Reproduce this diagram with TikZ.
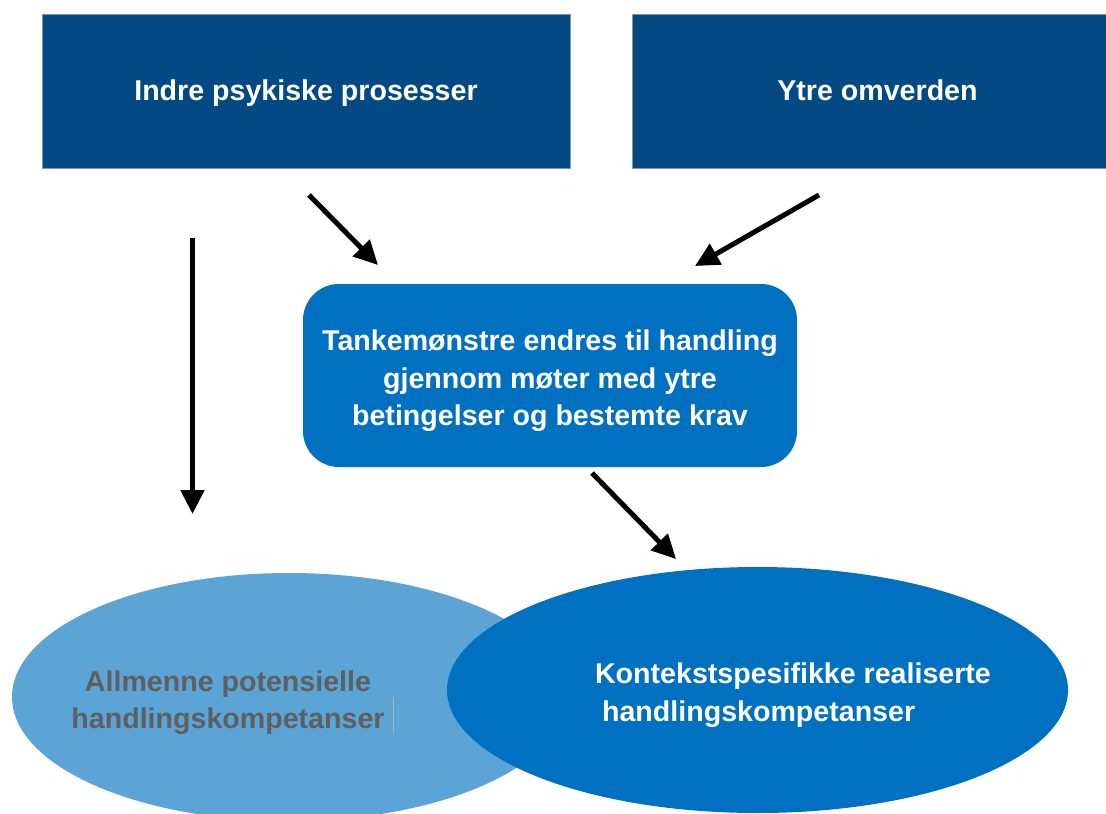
\documentclass[tikz,border=0pt]{standalone}
\usepackage{fontspec}
\setmainfont{Liberation Sans}
\usetikzlibrary{arrows.meta,shapes.geometric}

\definecolor{navybox}{RGB}{3,73,132}
\definecolor{navyedge}{RGB}{120,150,185}
\definecolor{midblue}{RGB}{0,112,192}
\definecolor{lightblue}{RGB}{92,164,213}
\definecolor{greytext}{RGB}{95,95,95}
\definecolor{caretcol}{RGB}{190,178,165}

\tikzset{
  lbl/.style={font=\bfseries\fontsize{28.6}{37.5}\selectfont, inner sep=0pt},
  topbox/.style={rectangle, fill=navybox, draw=navyedge, line width=0.8pt,
    text=white, lbl, text height=20.5pt, text depth=2pt, minimum height=154pt},
  thinkbox/.style={rectangle, rounded corners=36pt, fill=midblue,
    minimum width=494pt, minimum height=183pt},
  oval/.style={ellipse, inner sep=0pt},
  flow/.style={line width=5pt, -{Triangle[length=24pt,width=23pt]}}
}

\begin{document}
\begin{tikzpicture}[x=1pt,y=-1pt]
  \useasboundingbox (0,0) rectangle (1106,814);
  \fill[white] (0,0) rectangle (1106,814);
  \clip (0,0) rectangle (1106,814);

  % two source boxes
  \node[topbox, minimum width=528pt] (inner) at (306,91) {Indre psykiske prosesser};
  \node[topbox, minimum width=491pt] (outer) at (877.5,91) {Ytre omverden};

  % central transformation box
  \node[thinkbox] (think) at (550,375.5) {};
  \node[lbl, text=white, align=center] (thinktxt) at (550,381)
    {Tankemønstre endres til handling\\gjennom møter med ytre\\betingelser og bestemte krav};

  % the two competence ovals (dark one drawn on top)
  \node[oval, fill=lightblue, minimum width=554pt, minimum height=248pt] (general) at (289,697) {};
  \node[oval, fill=midblue, minimum width=621pt, minimum height=246pt] (specific) at (757.5,690) {};

  \node[lbl, text=greytext, align=center] (gentxt) at (228,702.5)
    {Allmenne potensielle\\handlingskompetanser};
  \coordinate (caretTop) at (393,697);
  \coordinate (caretBot) at (393,733);
  \draw[caretcol, line width=1pt] (caretTop) -- (caretBot);

  \node[lbl, text=white, align=left] (spectxt) at (793,695)
    {Kontekstspesifikke realiserte\\\hspace*{7pt}handlingskompetanser};

  % arrows
  \coordinate (a1s) at (309,195);
  \coordinate (a1e) at (378,265);
  \coordinate (a2s) at (819,195);
  \coordinate (a2e) at (695,266);
  \coordinate (a3s) at (192.5,238);
  \coordinate (a3e) at (192.5,514);
  \coordinate (a4s) at (592,473);
  \coordinate (a4e) at (676,559);

  \draw[flow] (a1s) -- (a1e);
  \draw[flow] (a2s) -- (a2e);
  \draw[flow] (a3s) -- (a3e);
  \draw[flow] (a4s) -- (a4e);
\end{tikzpicture}
\end{document}
